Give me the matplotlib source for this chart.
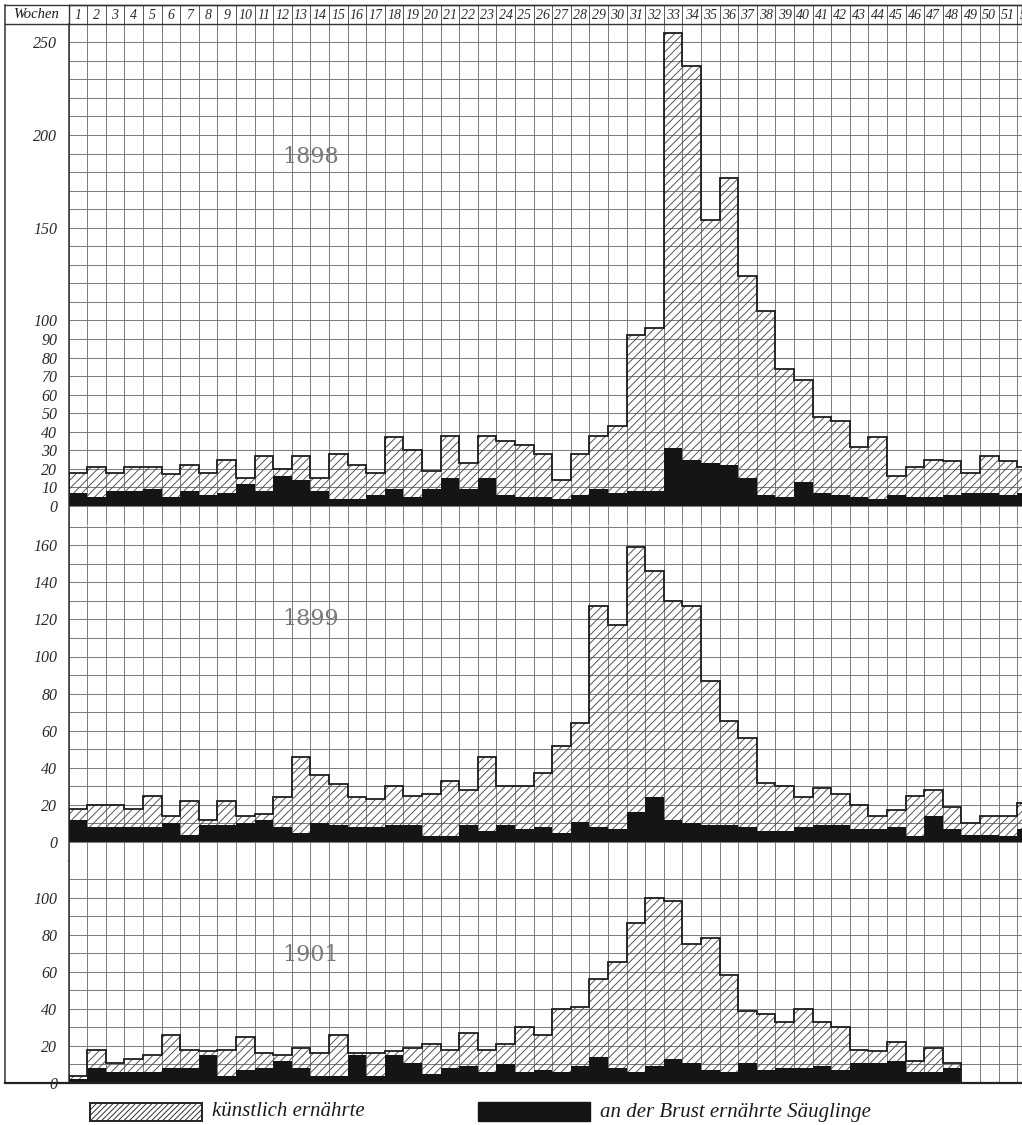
import numpy as np
import matplotlib
matplotlib.use('Agg')
import matplotlib.pyplot as plt
from matplotlib.patches import Rectangle

# ---------------- data (weekly counts) ----------------
weeks_header = list(range(1, 53))

tot_1898 = [18, 21, 18, 21, 21, 17, 22, 18, 25, 15,
            27, 20, 27, 15, 28, 22, 18, 37, 30, 19,
            38, 23, 38, 35, 33, 28, 14, 28, 38, 43,
            92, 96, 255, 237, 154, 177, 124, 105, 74, 68,
            48, 46, 32, 37, 16, 21, 25, 24, 18, 27,
            24, 21]
brust_1898 = [7, 5, 8, 8, 9, 5, 8, 6, 7, 12,
              8, 16, 14, 8, 4, 4, 6, 9, 5, 9,
              15, 9, 15, 6, 5, 5, 4, 6, 9, 7,
              8, 8, 31, 25, 23, 22, 15, 6, 5, 13,
              7, 6, 5, 4, 6, 5, 5, 6, 7, 7,
              6, 7]

tot_1899 = [18, 20, 20, 18, 25, 14, 22, 12, 22, 14,
            15, 24, 46, 36, 31, 24, 23, 30, 25, 26,
            33, 28, 46, 30, 30, 37, 52, 64, 127, 117,
            159, 146, 130, 127, 87, 65, 56, 32, 30, 24,
            29, 26, 20, 14, 17, 25, 28, 19, 10, 14,
            14, 21]
brust_1899 = [12, 8, 8, 8, 8, 10, 4, 9, 9, 10,
              12, 8, 5, 10, 9, 8, 8, 9, 9, 3,
              3, 9, 6, 9, 7, 8, 5, 11, 8, 7,
              16, 24, 12, 10, 9, 9, 8, 6, 6, 8,
              9, 9, 7, 7, 8, 3, 14, 7, 4, 4,
              3, 7]

tot_1901 = [4, 18, 11, 13, 15, 26, 18, 17, 18, 25,
            16, 15, 19, 16, 26, 16, 16, 17, 19, 21,
            18, 27, 18, 21, 30, 26, 40, 41, 56, 65,
            86, 100, 98, 75, 78, 58, 39, 37, 33, 40,
            33, 30, 18, 17, 22, 12, 19, 11]
brust_1901 = [2, 8, 6, 6, 6, 8, 8, 15, 4, 7,
              8, 12, 8, 4, 4, 15, 4, 15, 11, 5,
              8, 9, 6, 10, 6, 7, 6, 9, 14, 8,
              6, 9, 13, 11, 7, 6, 11, 7, 8, 8,
              9, 7, 11, 11, 12, 6, 6, 8]

ticks_1898 = [0, 10, 20, 30, 40, 50, 60, 70, 80, 90, 100, 150, 200, 250]
ticks_1899 = [0, 20, 40, 60, 80, 100, 120, 140, 160]
ticks_1901 = [0, 20, 40, 60, 80, 100]

years = ['1898', '1899', '1901']
legend_labels = ['künstlich ernährte', 'an der Brust ernährte Säuglinge']

# ---------------- layout ----------------
W, H = 1022, 1125
fig = plt.figure(figsize=(W / 100, H / 100), dpi=100)
fig.patch.set_facecolor('white')
plt.rcParams['hatch.linewidth'] = 0.65

SERIF = ['Liberation Serif', 'DejaVu Serif']
X0 = 68.5          # left edge of week 1 (px)
COL = 18.6         # width of one week (px)
UNIT = 1.855       # px per count
XMAX = (W - X0) / COL
GRID_C = '#707070'


def ax_px(x0, y0, x1, y1):
    return fig.add_axes([x0 / W, 1 - y1 / H, (x1 - x0) / W, (y1 - y0) / H])


# (tot, brust, year, top_px, bottom_px, zero_px, ticks, year_y)
panels = [
    (tot_1898, brust_1898, years[0], 24.0, 525.5, 506.0, ticks_1898, 188),
    (tot_1899, brust_1899, years[1], 525.5, 860.5, 842.0, ticks_1899, 120),
    (tot_1901, brust_1901, years[2], 860.5, 1083.0, 1083.0, ticks_1901, 69),
]

for tot, brust, year, ytop, ybot, yzero, ticks, ylab in panels:
    ax = ax_px(X0, ytop, W, ybot)
    tot = np.array(tot, dtype=float)
    brust = np.array(brust, dtype=float)
    n = len(tot)
    lo = (yzero - ybot) / UNIT
    hi = (yzero - ytop) / UNIT
    ax.set_xlim(0, XMAX)
    ax.set_ylim(lo, hi)
    # grid
    for g in np.arange(np.ceil(lo / 10) * 10, hi + 0.01, 10):
        ax.axhline(g, color=GRID_C, lw=0.65, zorder=0)
    for v in range(0, 53):
        ax.axvline(v, color=GRID_C, lw=0.65, zorder=0)
    left = np.arange(n)
    ax.bar(left, tot - brust, bottom=brust, width=1, align='edge',
           facecolor='none', edgecolor='#4a4a4a', hatch='////', lw=0, zorder=2)
    ax.bar(left, brust, width=1, align='edge', color='#151515', lw=0, zorder=3)
    ax.stairs(tot, np.arange(n + 1), baseline=0, color='#1e1e1e', lw=1.3, zorder=4)
    ax.text(13.0, ylab, year, ha='center', va='center', fontsize=16,
            family='DejaVu Serif', color='#7a7a7a', zorder=5)
    ax.set_yticks(ticks)
    ax.set_yticklabels([str(t) for t in ticks], fontsize=11.5,
                       family=SERIF, style='italic', color='#2a2a2a')
    ax.tick_params(axis='y', length=0, pad=8)
    ax.set_xticks([])
    for s in ['top', 'right', 'bottom']:
        ax.spines[s].set_visible(False)
    ax.spines['left'].set_color('#333333')
    ax.spines['left'].set_linewidth(1.1)
    ax.set_facecolor('none')

# header row with week numbers
hx = ax_px(X0, 5, W, 24)
hx.set_xlim(0, XMAX)
hx.set_ylim(0, 1)
for v in range(0, 53):
    hx.axvline(v, color='#555555', lw=0.7)
for w in weeks_header:
    hx.text(w - 0.5, 0.45, str(w), ha='center', va='center', fontsize=10,
            family=SERIF, style='italic', color='#2a2a2a', clip_on=True)
hx.set_xticks([])
hx.set_yticks([])
for s in hx.spines.values():
    s.set_color('#333333')
    s.set_linewidth(1.0)

# overlay for frame and legend (pixel coordinates)
ov = fig.add_axes([0, 0, 1, 1])
ov.set_xlim(0, W)
ov.set_ylim(H, 0)
ov.axis('off')
ov.set_facecolor('none')
ov.plot([5, 5], [5, 1083], color='#333333', lw=1.1)
ov.plot([5, W], [5, 5], color='#333333', lw=1.0)
ov.plot([5, X0], [24, 24], color='#333333', lw=1.0)
ov.plot([5, W], [1083, 1083], color='#222222', lw=1.6)
ov.text(36, 14.5, 'Wochen', ha='center', va='center', fontsize=10.5,
        family=SERIF, style='italic', color='#1a1a1a')

ov.add_patch(Rectangle((90, 1103), 112, 18, facecolor='white', edgecolor='#222222',
                       hatch='//////', lw=1.4))
ov.text(212, 1112, legend_labels[0], ha='left', va='center', fontsize=15,
        family=SERIF, style='italic', color='#1a1a1a')
ov.add_patch(Rectangle((478, 1102), 112, 19, facecolor='#151515', edgecolor='#151515', lw=1))
ov.text(600, 1112, legend_labels[1], ha='left', va='center', fontsize=15,
        family=SERIF, style='italic', color='#1a1a1a')

fig.savefig('out.png', dpi=100, facecolor='white')
